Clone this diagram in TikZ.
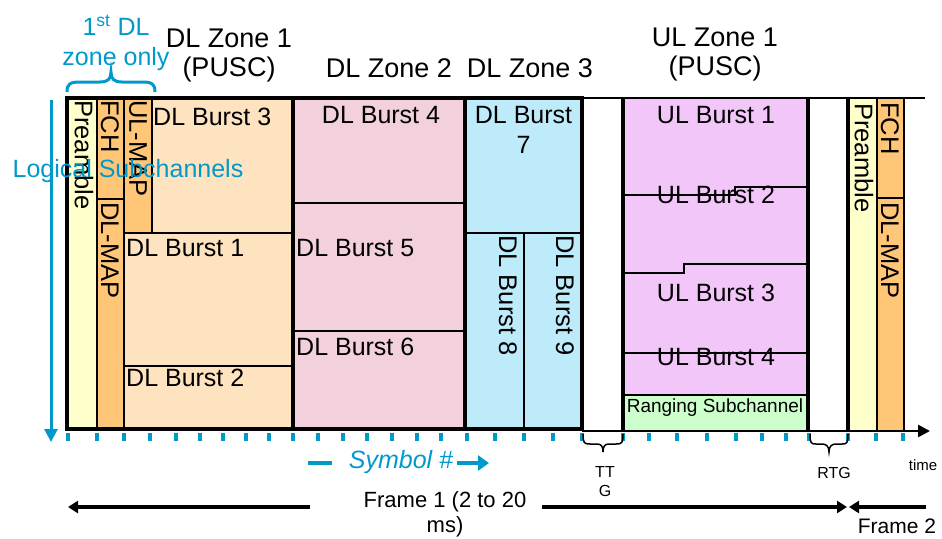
\documentclass[tikz,border=0pt]{standalone}
\usepackage{fontspec}
\setmainfont{Liberation Sans}
\usetikzlibrary{arrows.meta}
\definecolor{pre}{RGB}{255,255,204}
\definecolor{ctl}{RGB}{255,198,120}
\definecolor{zoneA}{RGB}{253,227,192}
\definecolor{zoneB}{RGB}{242,208,220}
\definecolor{zoneC}{RGB}{190,235,250}
\definecolor{ulz}{RGB}{243,198,250}
\definecolor{rng}{RGB}{204,255,204}
\definecolor{sky}{RGB}{0,153,204}
\begin{document}
\begin{tikzpicture}[x=1pt,y=-1pt,
  thinln/.style={line width=1.2pt},
  thickln/.style={line width=3.2pt},
  lbl/.style={inner sep=0pt,font=\fontsize{25}{30}\selectfont},
  zonelbl/.style={inner sep=0pt,align=center,font=\fontsize{27}{29}\selectfont},
  vlbl/.style={lbl,rotate=-90,anchor=west,font=\fontsize{25.5}{30}\selectfont},
  smalllbl/.style={inner sep=0pt,align=center,font=\fontsize{16}{19}\selectfont},
  bluelbl/.style={inner sep=0pt,align=center,text=sky,font=\fontsize{25}{30}\selectfont},
  framearrow/.style={line width=3.5pt,-{Triangle[length=10pt,width=12pt]}},
  tickmark/.style={sky,line width=3.5pt}]
\useasboundingbox (0,0) rectangle (942,538);
% fills
\fill[pre] (67,98) rectangle (97,429);
\fill[ctl] (97,98) rectangle (124,429);
\fill[ctl] (124,98) rectangle (152,233);
\fill[zoneA] (152,98) rectangle (293,233);
\fill[zoneA] (124,233) rectangle (293,429);
\fill[zoneB] (293,98) rectangle (465,429);
\fill[zoneC] (465,98) rectangle (582,429);
\fill[ulz] (623,98) rectangle (808,395);
\fill[rng] (623,395) rectangle (808,431);
\fill[pre] (848,98) rectangle (877,431);
\fill[ctl] (877,98) rectangle (904,431);
% thin lines
\draw[thinln] (97,98)--(97,429) (124,98)--(124,429) (152,98)--(152,233)
  (97,199)--(124,199) (124,233)--(293,233) (124,366)--(293,366)
  (293,203)--(465,203) (293,331)--(465,331)
  (465,233)--(582,233) (524,233)--(524,429);
\draw[thinln] (623,195)--(735,195)--(735,187)--(808,187)
  (623,273)--(684,273)--(684,264)--(808,264)
  (623,353)--(808,353) (623,395)--(808,395);
\draw[thinln] (877,98)--(877,431) (904,98)--(904,431) (877,198)--(904,198)
  (582,98)--(925,98);
% thick lines
\draw[thickln] (67,98) rectangle (582,429);
\draw[thickln] (293,98)--(293,429) (465,98)--(465,429)
  (623,98)--(623,431) (808,98)--(808,431) (848,98)--(848,431);
% time axis
\coordinate (ax0) at (582,431);
\coordinate (ax1) at (930,431);
\draw[line width=2.6pt,-{Triangle[length=12pt,width=12pt]}] (ax0)--(ax1);
\foreach \x in {68,97,124,150,176,200,223,246,269,293,318,343,367,392,417,441,467,495,524,553,582,623,649,677,707,736,762,786,809,848,876,903}
  \draw[tickmark] (\x,433)--(\x,441);
% left vertical arrow
\coordinate (va0) at (51,100);
\coordinate (va1) at (51,442);
\draw[sky,line width=3pt,-{Triangle[length=13pt,width=13pt]}] (va0)--(va1);
% burst labels
\node[lbl,anchor=west] (b3) at (153,117) {DL Burst 3};
\node[lbl,anchor=west] (b1) at (126,248) {DL Burst 1};
\node[lbl,anchor=west] (b2) at (126,378) {DL Burst 2};
\node[lbl] (b4) at (381,115) {DL Burst 4};
\node[lbl,anchor=west] (b5) at (296,248) {DL Burst 5};
\node[lbl,anchor=west] (b6) at (296,347) {DL Burst 6};
\node[lbl,align=center] (b7) at (523.5,130) {DL Burst\\7};
\node[vlbl] (b8) at (508,235) {DL Burst 8};
\node[vlbl] (b9) at (565,235) {DL Burst 9};
\node[vlbl] (pre1) at (84,100) {Preamble};
\node[vlbl] (fch1) at (110,100) {FCH};
\node[vlbl] (ulmap) at (138,100) {UL-MAP};
\node[vlbl] (dlmap1) at (110,202) {DL-MAP};
\node[vlbl] (pre2) at (864,103) {Preamble};
\node[vlbl] (fch2) at (890,102) {FCH};
\node[vlbl] (dlmap2) at (890,202) {DL-MAP};
\node[lbl] (u1) at (716,115) {UL Burst 1};
\node[lbl] (u2) at (716,195) {UL Burst 2};
\node[lbl] (u3) at (716,293) {UL Burst 3};
\node[lbl] (u4) at (716,357) {UL Burst 4};
\node[inner sep=0pt,font=\fontsize{19}{22}\selectfont] (rs) at (715,408) {Ranging Subchannel};
% zone titles
\node[zonelbl] (z1) at (229,56) {DL Zone 1\\(PUSC)};
\node[zonelbl] (z2) at (389,68) {DL Zone 2};
\node[zonelbl] (z3) at (530,68) {DL Zone 3};
\node[zonelbl] (z4) at (715,55) {UL Zone 1\\(PUSC)};
% blue annotations
\node[bluelbl] (first) at (116,43) {1\textsuperscript{st} DL\\zone only};
\draw[sky,line width=3pt] (67,92) .. controls (67,84) and (70,82) .. (80,82) -- (100,82)
  .. controls (108,82) and (111,79) .. (111,72) .. controls (111,79) and (114,82) .. (122,82)
  -- (142,82) .. controls (152,82) and (155,84) .. (155,92);
\node[bluelbl] (logsub) at (128,171) {Logical Subchannels};
\coordinate (sd0) at (308,463);
\coordinate (sd1) at (332,463);
\draw[sky,line width=4.5pt] (sd0)--(sd1);
\node[inner sep=0pt,text=sky,font=\itshape\fontsize{25}{28}\selectfont] (sym) at (401,462) {Symbol \#};
\coordinate (sa0) at (457,463);
\coordinate (sa1) at (489,463);
\draw[sky,line width=4.5pt,-{Triangle[length=11pt,width=15pt]}] (sa0)--(sa1);
% gap braces
\draw[line width=1.5pt] (583,434) .. controls (583,443) and (584,444) .. (590,444) -- (597,444)
  .. controls (601,444) and (603,446) .. (603,452) .. controls (603,446) and (605,444) .. (609,444)
  -- (616,444) .. controls (622,444) and (623,443) .. (623,434);
\draw[line width=1.5pt] (810,434) .. controls (810,443) and (811,444) .. (816,444) -- (822,444)
  .. controls (826,444) and (829,446) .. (829,452) .. controls (829,446) and (832,444) .. (836,444)
  -- (842,444) .. controls (847,444) and (848,443) .. (848,434);
\node[smalllbl] (ttg) at (605,482) {TT\\G};
\node[smalllbl] (rtg) at (834,473) {RTG};
\node[smalllbl,font=\fontsize{15}{18}\selectfont] (tm) at (923,465) {time};
% frame arrows
\node[inner sep=0pt,align=center,font=\fontsize{22}{25}\selectfont] (f1) at (445,514) {Frame 1 (2 to 20\\ms)};
\node[inner sep=0pt,font=\fontsize{21}{25}\selectfont] (f2) at (897,526) {Frame 2};
\coordinate (fa0) at (310,507);
\coordinate (fa1) at (68,507);
\coordinate (fb0) at (542,507);
\coordinate (fb1) at (847,507);
\coordinate (fc0) at (926,507);
\coordinate (fc1) at (849,507);
\draw[framearrow] (fa0)--(fa1);
\draw[framearrow] (fb0)--(fb1);
\draw[framearrow] (fc0)--(fc1);
\end{tikzpicture}
\end{document}
